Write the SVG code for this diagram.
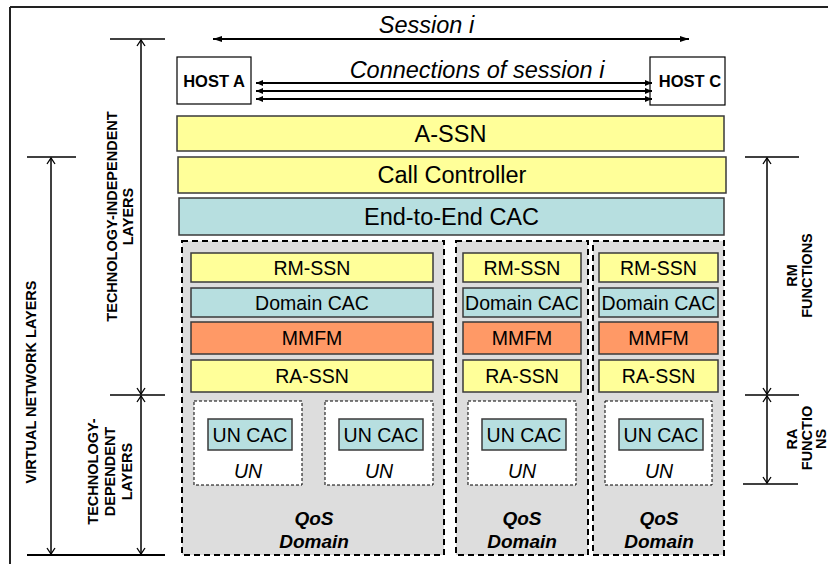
<svg xmlns="http://www.w3.org/2000/svg" width="828" height="564" viewBox="0 0 828 564">
<style>
text{font-family:"Liberation Sans",Arial,sans-serif;fill:#000;text-anchor:middle}
.big{font-size:23.5px}
.it{font-style:italic}
.mid{font-size:19.5px}
.bi{font-size:19px;font-weight:bold;font-style:italic}
.lab{font-size:14.5px;font-weight:bold}
.host{font-size:16.5px;font-weight:bold}
.yel{fill:#FFFF99;stroke:#3a3a3a;stroke-width:1.5}
.blu{fill:#B7DFE0;stroke:#3a3a3a;stroke-width:1.5}
.org{fill:#FF9966;stroke:#3a3a3a;stroke-width:1.5}
.dom{fill:#DDDDDD;stroke:#000;stroke-width:2;stroke-dasharray:6,4}
.un{fill:#FFFFFF;stroke:#000;stroke-width:1;stroke-dasharray:3,2}
.hostbox{fill:#FFFFFF;stroke:#000;stroke-width:1.2}
.dim{stroke:#000;stroke-width:1.5;fill:none}
.tick{stroke:#000;stroke-width:1.5}
.conn{stroke:#000;stroke-width:2.2;fill:none}
</style>
<defs>
<marker id="fa" viewBox="0 0 9 6" refX="9" refY="3" markerWidth="9" markerHeight="6" markerUnits="userSpaceOnUse" orient="auto-start-reverse"><path d="M0,0 L9,3 L0,6 z" fill="#000"/></marker>
<marker id="fs" viewBox="0 0 7 6" refX="7" refY="3" markerWidth="7" markerHeight="6" markerUnits="userSpaceOnUse" orient="auto-start-reverse"><path d="M0,0 L7,3 L0,6 z" fill="#000"/></marker>
<marker id="oa" viewBox="0 0 6 8" refX="6" refY="4" markerWidth="6" markerHeight="8" markerUnits="userSpaceOnUse" orient="auto-start-reverse" overflow="visible"><path d="M0,0 L6,4 L0,8" fill="none" stroke="#000" stroke-width="1.3"/></marker>
</defs>

<g id="frame">
<line x1="10" y1="7" x2="828" y2="7" stroke="#222" stroke-width="2"/>
<line x1="10" y1="7" x2="10" y2="564" stroke="#222" stroke-width="2"/>
</g>

<g id="host-a"><rect class="hostbox" x="177" y="57" width="74" height="47"/><text class="host" x="214" y="87">HOST A</text></g>
<g id="host-c"><rect class="hostbox" x="650" y="57" width="75" height="48"/><text class="host" x="690" y="87">HOST C</text></g>

<g id="a-ssn"><rect class="yel" x="177" y="116" width="547" height="35"/><text class="big" x="450.5" y="142">A-SSN</text></g>
<g id="call-controller"><rect class="yel" x="178" y="157" width="548" height="36"/><text class="big" x="452" y="183">Call Controller</text></g>
<g id="e2e-cac"><rect class="blu" x="179" y="198" width="545" height="37"/><text class="big" x="451.5" y="225">End-to-End CAC</text></g>

<g id="qos-domain-1">
<rect class="dom" x="182" y="241" width="262" height="314"/>
<rect class="yel" x="191" y="253" width="242" height="29"/><text class="mid" x="312" y="274.5">RM-SSN</text>
<rect class="blu" x="191" y="288" width="242" height="29"/><text class="mid" x="312" y="310">Domain CAC</text>
<rect class="org" x="191" y="322" width="242" height="32"/><text class="mid" x="312" y="345">MMFM</text>
<rect class="yel" x="191" y="360" width="242" height="32"/><text class="mid" x="312" y="383">RA-SSN</text>
<g id="un-1a"><rect class="un" x="194" y="401" width="108" height="84"/><rect class="blu" x="208" y="419" width="84" height="31"/><text class="mid" x="250" y="442">UN CAC</text><text class="mid it" x="248" y="478">UN</text></g>
<g id="un-1b"><rect class="un" x="325" y="401" width="108" height="84"/><rect class="blu" x="339" y="419" width="84" height="31"/><text class="mid" x="381" y="442">UN CAC</text><text class="mid it" x="379" y="478">UN</text></g>
<text class="bi" x="314" y="525">QoS</text><text class="bi" x="314" y="548">Domain</text>
</g>

<g id="qos-domain-2">
<rect class="dom" x="456" y="241" width="132" height="314"/>
<rect class="yel" x="463" y="253" width="118" height="29"/><text class="mid" x="522" y="274.5">RM-SSN</text>
<rect class="blu" x="463" y="288" width="118" height="29"/><text class="mid" x="522" y="310">Domain CAC</text>
<rect class="org" x="463" y="322" width="118" height="32"/><text class="mid" x="522" y="345">MMFM</text>
<rect class="yel" x="463" y="360" width="118" height="32"/><text class="mid" x="522" y="383">RA-SSN</text>
<g id="un-2"><rect class="un" x="468" y="401" width="108" height="84"/><rect class="blu" x="482" y="419" width="84" height="31"/><text class="mid" x="524" y="442">UN CAC</text><text class="mid it" x="522" y="478">UN</text></g>
<text class="bi" x="522" y="525">QoS</text><text class="bi" x="522" y="548">Domain</text>
</g>

<g id="qos-domain-3">
<rect class="dom" x="593" y="241" width="131" height="314"/>
<rect class="yel" x="599" y="253" width="119" height="29"/><text class="mid" x="658.5" y="274.5">RM-SSN</text>
<rect class="blu" x="599" y="288" width="119" height="29"/><text class="mid" x="658.5" y="310">Domain CAC</text>
<rect class="org" x="599" y="322" width="119" height="32"/><text class="mid" x="658.5" y="345">MMFM</text>
<rect class="yel" x="599" y="360" width="119" height="32"/><text class="mid" x="658.5" y="383">RA-SSN</text>
<g id="un-3"><rect class="un" x="605" y="401" width="107" height="84"/><rect class="blu" x="619" y="419" width="84" height="31"/><text class="mid" x="661" y="442">UN CAC</text><text class="mid it" x="659" y="478">UN</text></g>
<text class="bi" x="659" y="525">QoS</text><text class="bi" x="659" y="548">Domain</text>
</g>

<g id="connectors">
<line x1="213" y1="39" x2="689" y2="39" stroke="#000" stroke-width="2" marker-start="url(#fa)" marker-end="url(#fa)"/>
<line class="conn" x1="256" y1="83" x2="652" y2="83" marker-start="url(#fs)" marker-end="url(#fs)"/>
<line class="conn" x1="256" y1="91" x2="652" y2="91" marker-start="url(#fs)" marker-end="url(#fs)"/>
<line class="conn" x1="256" y1="99" x2="652" y2="99" marker-start="url(#fs)" marker-end="url(#fs)"/>

<line class="tick" x1="110" y1="39" x2="165" y2="39"/>
<line class="tick" x1="110" y1="395" x2="165" y2="395"/>
<line x1="27" y1="555" x2="165" y2="555" stroke="#000" stroke-width="2"/>
<line class="tick" x1="27" y1="157" x2="76" y2="157"/>
<line class="dim" x1="141" y1="40" x2="141" y2="394" marker-start="url(#oa)" marker-end="url(#oa)"/>
<line class="dim" x1="141" y1="396" x2="141" y2="554" marker-start="url(#oa)" marker-end="url(#oa)"/>
<line class="dim" x1="51" y1="158" x2="51" y2="554" marker-start="url(#oa)" marker-end="url(#oa)"/>

<line class="tick" x1="745" y1="157" x2="799" y2="157"/>
<line class="tick" x1="745" y1="395" x2="799" y2="395"/>
<line class="tick" x1="743" y1="484" x2="798" y2="484"/>
<line class="dim" x1="767" y1="158" x2="767" y2="394" marker-start="url(#oa)" marker-end="url(#oa)"/>
<line class="dim" x1="767" y1="396" x2="767" y2="483" marker-start="url(#oa)" marker-end="url(#oa)"/>
</g>

<g id="labels">
<text class="big it" x="426.5" y="33">Session i</text>
<text class="big it" x="477" y="78">Connections of session i</text>
<text class="lab" transform="translate(36,382) rotate(-90)">VIRTUAL NETWORK LAYERS</text>
<text class="lab" transform="translate(117,216.5) rotate(-90)">TECHNOLOGY-INDEPENDENT</text>
<text class="lab" transform="translate(133,216.5) rotate(-90)">LAYERS</text>
<text class="lab" transform="translate(98,471.5) rotate(-90)">TECHNOLOGY-</text>
<text class="lab" transform="translate(115,471.5) rotate(-90)">DEPENDENT</text>
<text class="lab" transform="translate(132,471.5) rotate(-90)">LAYERS</text>
<text class="lab" transform="translate(797,275.5) rotate(-90)">RM</text>
<text class="lab" transform="translate(812,275.5) rotate(-90)">FUNCTIONS</text>
<text class="lab" transform="translate(797,439) rotate(-90)">RA</text>
<text class="lab" transform="translate(812,438) rotate(-90)">FUNCTIO</text>
<text class="lab" transform="translate(826,439) rotate(-90)">NS</text>
</g>
</svg>
